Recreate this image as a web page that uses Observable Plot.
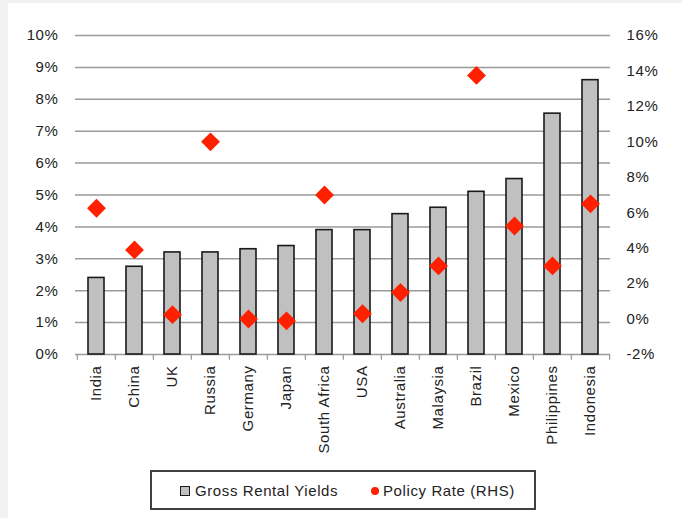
<!DOCTYPE html>
<html>
<head>
<meta charset="utf-8">
<script src="https://cdn.jsdelivr.net/npm/d3@7"></script>
<script src="https://cdn.jsdelivr.net/npm/@observablehq/plot@0.6"></script>
<style>
  body { margin: 0; width: 682px; height: 518px; overflow: hidden; position: relative; background: #f2f2f2;
         font-family: "Liberation Sans", Arial, sans-serif; color: #222; }
  #panel { position: absolute; left: 8px; top: 3px; right: 0; bottom: 0; background: #fff; }
  #chart { position: absolute; left: 0; top: 0; }
  #legend { position: absolute; left: 150px; top: 470px; width: 386px; height: 40px; box-sizing: border-box;
            border: 2px solid #404040; background: #fff; }
  .item { position: absolute; font-size: 15px; letter-spacing: 0.6px; line-height: 18px; white-space: nowrap; }
  .swatch { position: absolute; box-sizing: border-box; }
</style>
</head>
<body>
<div id="panel"></div>
<div id="chart"></div>
<div id="legend"></div>
<div class="swatch" style="left:180px;top:486px;width:10px;height:10px;background:#c0c0c0;border:1.5px solid #1a1a1a;"></div>
<div class="item" style="left:195px;top:482px;">Gross Rental Yields</div>
<div class="swatch" style="left:371px;top:487px;width:8px;height:8px;border-radius:50%;background:#ff2000;"></div>
<div class="item" style="left:383px;top:482px;">Policy Rate (RHS)</div>
<script>
// Gross rental yields (left axis, %) and policy rates (right axis, %) by country
const countries = ["India", "China", "UK", "Russia", "Germany", "Japan", "South Africa", "USA",
                   "Australia", "Malaysia", "Brazil", "Mexico", "Philippines", "Indonesia"];
const rentalYields = [2.4, 2.75, 3.2, 3.2, 3.3, 3.4, 3.9, 3.9, 4.4, 4.6, 5.1, 5.5, 7.55, 8.6];
const policyRates = [6.25, 3.9, 0.25, 10.0, 0.0, -0.1, 7.0, 0.3, 1.5, 3.0, 13.75, 5.25, 3.0, 6.5];

// Axis tick values
const leftTicks = [0, 1, 2, 3, 4, 5, 6, 7, 8, 9, 10];
const rightTicks = [-2, 0, 2, 4, 6, 8, 10, 12, 14, 16];

const data = countries.map((country, i) => ({country, yield: rentalYields[i], rate: policyRates[i]}));

// The right axis spans -2%..16% over the same height as 0%..10% on the left
const toLeft = v => (v + 2) / 1.8;
const fromLeft = v => v * 1.8 - 2;

const width = 682, height = 462;
const marginLeft = 75, marginRight = 72;
const step = (width - marginLeft - marginRight) / countries.length;
const gridColor = "#9a9a9a";

const chart = Plot.plot({
  width, height,
  marginLeft, marginRight, marginTop: 35, marginBottom: 108,
  style: {fontFamily: "'Liberation Sans', Arial, sans-serif", fontSize: "15px", letterSpacing: "0.6px",
          color: "#222", background: "transparent", overflow: "visible"},
  x: {domain: countries, paddingInner: 0.58, paddingOuter: 0.29, label: null},
  y: {domain: [0, 10], label: null},
  marks: [
    Plot.ruleY(leftTicks, {stroke: gridColor, strokeWidth: 1.5}),
    // category separators below the baseline
    Plot.ruleX(countries, {x: d => d, dx: -step / 2, y1: 0, y2: -0.18, stroke: gridColor, strokeWidth: 1.3}),
    Plot.ruleX(countries.slice(-1), {x: d => d, dx: step / 2, y1: 0, y2: -0.18, stroke: gridColor, strokeWidth: 1.3}),
    Plot.barY(data, {x: "country", y: "yield", fill: "#c0c0c0", stroke: "#1a1a1a", strokeWidth: 1.6}),
    Plot.dot(data, {x: "country", y: d => toLeft(d.rate), symbol: "diamond2", r: 8.5, fill: "#ff2000", stroke: "none"}),
    Plot.axisY(leftTicks, {anchor: "left", tickSize: 0, tickPadding: 17, tickFormat: d => d + "%", label: null}),
    Plot.axisY(rightTicks.map(toLeft), {anchor: "right", tickSize: 0, tickPadding: 16,
      tickFormat: d => Math.round(fromLeft(d)) + "%", label: null}),
    Plot.axisX({tickSize: 0, tickPadding: 11, tickRotate: -90, label: null})
  ]
});
document.getElementById("chart").appendChild(chart);
</script>
</body>
</html>
